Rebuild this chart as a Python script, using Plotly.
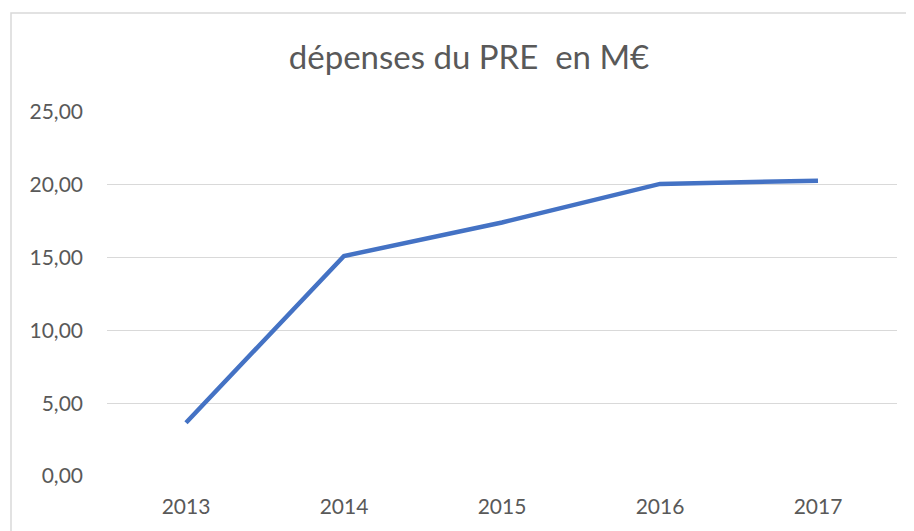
import plotly.graph_objects as go

years = ["2013", "2014", "2015", "2016", "2017"]
depenses = [3.66, 15.11, 17.41, 20.06, 20.28]
y_ticks = [0, 5, 10, 15, 20, 25]

# The page body has an 8px margin; lay out the figure so that it lands on the target pixels.
OFF = 8
W, H = 914 - OFF, 531 - OFF
ml, mt = 107 - OFF, 112 - OFF
mr, mb = 17, 55
pw = W - ml - mr
ph = H - mt - mb

fig = go.Figure()
fig.add_trace(go.Scatter(
    x=years, y=depenses, mode="lines",
    line=dict(color="#4472C4", width=4.5),
    hoverinfo="x+y",
))

font_family = "Lato, 'Open Sans', sans-serif"
fig.update_layout(
    width=W, height=H,
    margin=dict(l=ml, r=mr, t=mt, b=mb),
    paper_bgcolor="white", plot_bgcolor="white",
    separators=",.",
    showlegend=False,
    title=dict(
        text="dépenses du PRE&nbsp; en M€",
        x=(469 - OFF) / W, xref="container", xanchor="center",
        y=1 - (57 - OFF) / H, yanchor="middle",
        font=dict(family=font_family, size=33, color="#595959"),
    ),
    xaxis=dict(
        type="category", range=[-0.5, 4.5],
        showgrid=False, showline=False, zeroline=False,
        ticks="", ticklabelstandoff=16,
        tickfont=dict(family=font_family, size=21, color="#595959"),
    ),
    yaxis=dict(
        range=[0, 25], tickvals=y_ticks, tickformat=".2f",
        showgrid=True, gridcolor="#d9d9d9", gridwidth=1.3,
        showline=False, zeroline=False,
        ticks="", ticklabelstandoff=23,
        tickfont=dict(family=font_family, size=21, color="#595959"),
    ),
    shapes=[dict(
        type="rect", xref="paper", yref="paper",
        x0=(11 - 107) / pw, x1=(912 - 107) / pw,
        y0=(476 - 545) / ph, y1=(476 - 13) / ph,
        line=dict(color="#d9d9d9", width=1.5),
        fillcolor="rgba(0,0,0,0)", layer="below",
    )],
)

fig.write_html("out.html")
